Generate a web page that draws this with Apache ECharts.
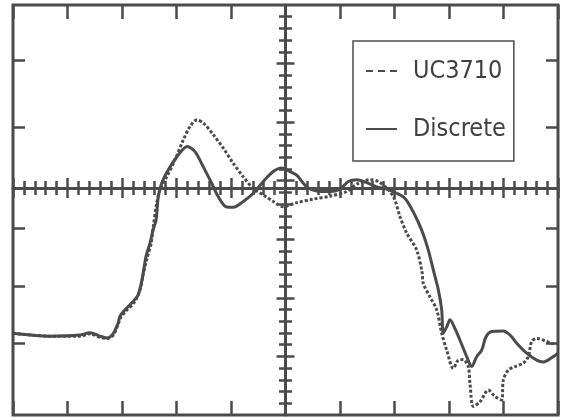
<!DOCTYPE html>
<html>
<head>
<meta charset="utf-8">
<script src="https://cdn.jsdelivr.net/npm/echarts@6/dist/echarts.min.js"></script>
<style>
html,body{margin:0;padding:0;background:#ffffff;}
#chart{width:569px;height:420px;}
</style>
</head>
<body>
<div id="chart"></div>
<script>
// ---- data (x in horizontal divisions, y in vertical divisions; 0 = centre cross) ----
const seriesNames = ['UC3710', 'Discrete'];

const uc3710Points = [
  [-5.0,-2.48],[-4.32,-2.53],[-3.771,-2.53],[-3.587,-2.49],[-3.404,-2.55],[-3.275,-2.57],
  [-3.165,-2.52],[-3.073,-2.33],[-3.018,-2.20],[-2.927,-2.10],[-2.780,-1.96],[-2.670,-1.74],
  [-2.615,-1.49],[-2.541,-1.20],[-2.468,-0.96],[-2.426,-0.66],[-2.363,-0.26],[-2.303,-0.03],
  [-2.180,0.19],[-2.028,0.48],[-1.875,0.82],[-1.752,1.05],[-1.629,1.16],[-1.508,1.11],
  [-1.325,0.91],[-1.141,0.68],[-0.958,0.42],[-0.774,0.19],[-0.591,-0.01],[-0.407,-0.12],
  [-0.224,-0.23],[-0.040,-0.32],[0.206,-0.25],[0.510,-0.19],[0.817,-0.14],[1.123,-0.06],
  [1.336,0.08],[1.550,0.14],[1.703,0.11],[1.917,-0.06],[2.009,-0.21],[2.101,-0.49],
  [2.224,-0.77],[2.407,-1.06],[2.505,-1.43],[2.528,-1.63],[2.651,-1.86],[2.774,-2.08],
  [2.866,-2.48],[2.958,-2.77],[3.079,-3.08],[3.171,-2.94],[3.262,-2.93],[3.354,-3.05],
  [3.385,-3.34],[3.446,-3.73],[3.569,-3.65],[3.721,-3.45],[3.844,-3.56],[3.967,-3.62],
  [3.996,-3.28],[4.088,-3.11],[4.211,-3.05],[4.363,-2.99],[4.455,-2.88],[4.517,-2.62],
  [4.609,-2.57],[4.793,-2.62],[4.914,-2.66],[5.0,-2.66]
];

const discretePoints = [
  [-5.0,-2.48],[-4.32,-2.53],[-3.771,-2.51],[-3.587,-2.47],[-3.404,-2.53],[-3.275,-2.56],
  [-3.165,-2.49],[-3.073,-2.31],[-3.037,-2.19],[-2.945,-2.08],[-2.798,-1.94],[-2.706,-1.83],
  [-2.633,-1.57],[-2.560,-1.17],[-2.486,-0.94],[-2.431,-0.72],[-2.376,-0.55],[-2.334,-0.15],
  [-2.272,0.08],[-2.150,0.31],[-1.996,0.53],[-1.802,0.71],[-1.661,0.62],[-1.508,0.36],
  [-1.354,0.08],[-1.233,-0.15],[-1.092,-0.32],[-0.958,-0.33],[-0.774,-0.23],[-0.591,-0.09],
  [-0.407,0.11],[-0.224,0.28],[-0.070,0.34],[0.083,0.28],[0.206,0.22],[0.389,0.02],
  [0.572,-0.05],[0.817,-0.06],[1.0,-0.02],[1.152,0.11],[1.306,0.14],[1.490,0.09],
  [1.673,0.02],[1.857,-0.02],[2.040,-0.09],[2.193,-0.18],[2.345,-0.41],[2.499,-0.72],
  [2.620,-1.06],[2.712,-1.40],[2.804,-1.74],[2.866,-2.08],[2.895,-2.48],[2.958,-2.37],
  [3.018,-2.25],[3.110,-2.40],[3.202,-2.60],[3.325,-2.88],[3.417,-3.05],[3.508,-2.88],
  [3.600,-2.77],[3.679,-2.54],[3.783,-2.45],[3.996,-2.44],[4.119,-2.51],[4.242,-2.65],
  [4.426,-2.82],[4.609,-2.94],[4.730,-2.97],[4.914,-2.88],[5.0,-2.82]
];

// axis ranges and tick positions (graticule)
const xRange = [-5, 5];
const yRange = [-3.876, 3.124];
const yEdgeTicks = [2.185, 1.041, -0.683, -1.673, -2.646];
const yCenterMajorTicks = [2.124, 1.124, 0.124, -0.876, -1.876, -2.876];
const yCenterMinorStep = 0.2;

const yCenterMinorTicks = [];
for (let k = 1; k < 35; k++) {
  yCenterMinorTicks.push(+(yRange[0] + k * yCenterMinorStep).toFixed(3));
}

const ink = '#4b4b4b';

function xAxisDef(pos, onZero, tickLen, showLine, minor) {
  return {
    type: 'value', min: xRange[0], max: xRange[1], interval: 1, position: pos,
    axisLine: { show: showLine, onZero: onZero, onZeroAxisIndex: 0, lineStyle: { color: ink, width: 3 } },
    axisTick: { show: true, inside: true, length: tickLen, lineStyle: { color: ink, width: 2.5 } },
    minorTick: { show: !!minor, splitNumber: 5, length: minor || 0, lineStyle: { color: ink, width: 2.5 } },
    axisLabel: { show: false }, splitLine: { show: false }, minorSplitLine: { show: false }
  };
}
function yAxisDef(pos, onZero, tickLen, showLine, ticks) {
  return {
    type: 'value', min: yRange[0], max: yRange[1], position: pos,
    axisLine: { show: showLine, onZero: onZero, onZeroAxisIndex: 0, lineStyle: { color: ink, width: 3 } },
    axisTick: { show: true, inside: true, length: tickLen, customValues: ticks, lineStyle: { color: ink, width: 2.5 } },
    axisLabel: { show: false, customValues: ticks }, splitLine: { show: false }
  };
}

const chart = echarts.init(document.getElementById('chart'), null, { renderer: 'canvas' });
chart.setOption({
  animation: false,
  backgroundColor: '#ffffff',
  grid: { left: 13, right: 11, top: 5, bottom: 5, show: true, borderColor: ink, borderWidth: 3, backgroundColor: 'transparent' },
  legend: {
    orient: 'vertical', left: 353, top: 41,
    padding: [15, 8, 17, 12],
    borderColor: ink, borderWidth: 1.5, borderRadius: 0,
    itemWidth: 31, itemHeight: 30, itemGap: 28,
    itemStyle: { opacity: 0, borderWidth: 0 },
    textStyle: { fontFamily: '"DejaVu Sans Condensed", "Liberation Sans Narrow", "Arial Narrow", sans-serif', fontSize: 25, color: '#404040', padding: [0, 0, 0, 11], lineHeight: 30 },
    data: [
      { name: 'UC3710', lineStyle: { type: [7, 5], width: 2, color: ink } },
      { name: 'Discrete', lineStyle: { type: 'solid', width: 2, color: ink } }
    ]
  },
  xAxis: [
    xAxisDef('bottom', false, 14, false, 0),
    xAxisDef('top', false, 14, false, 0),
    xAxisDef('bottom', true, 10, true, 7),
    xAxisDef('top', true, 10, false, 7)
  ],
  yAxis: [
    yAxisDef('left', false, 12, false, yEdgeTicks),
    yAxisDef('right', false, 12, false, yEdgeTicks),
    yAxisDef('left', true, 9, true, yCenterMajorTicks),
    yAxisDef('right', true, 9, false, yCenterMajorTicks),
    yAxisDef('left', true, 6.5, false, yCenterMinorTicks),
    yAxisDef('right', true, 6.5, false, yCenterMinorTicks)
  ],
  series: [
    {
      name: seriesNames[0], type: 'line', xAxisIndex: 0, yAxisIndex: 0,
      data: uc3710Points, smooth: 0.3, symbol: 'none', z: 3,
      lineStyle: { color: ink, width: 3, type: [3, 2], cap: 'butt' },
      itemStyle: { color: ink }
    },
    {
      name: seriesNames[1], type: 'line', xAxisIndex: 0, yAxisIndex: 0,
      data: discretePoints, smooth: 0.3, symbol: 'none', z: 4,
      lineStyle: { color: ink, width: 3, type: 'solid' },
      itemStyle: { color: ink }
    }
  ]
});
</script>
</body>
</html>
